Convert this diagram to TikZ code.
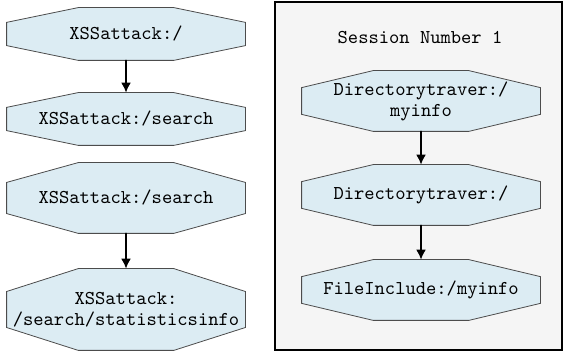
\documentclass[tikz,border=0pt]{standalone}
\usetikzlibrary{calc,backgrounds,arrows.meta}
\definecolor{StepBlue}{HTML}{DCECF3}
\definecolor{PanelGray}{HTML}{F5F5F5}
\begin{document}
\begin{tikzpicture}[x=1pt,y=1pt,line cap=round,font=\ttfamily\fontsize{9.8}{10.5}\selectfont,
  octa/.style={align=center,inner sep=0pt,minimum width=119pt,minimum height=#1},octa/.default=26pt,
  flow/.style={-{Latex[length=5pt,width=5pt]},line width=0.8pt}]
  \useasboundingbox (0,0) rectangle (282.5,178);
  \node[octa] (xss) at (63,161) {XSSattack:/}; \node[octa] (xssSearch) at (63,118.5) {XSSattack:/search};
  \node[octa=35pt] (xssSearchB) at (63,79) {XSSattack:/search};
  \node[octa=40.5pt] (xssStats) at (63,23.25) {XSSattack:\\/search/statisticsinfo};
  \node (title) at (210,159) {Session Number 1};
  \node[octa=30pt] (dirInfo) at (210.5,127.5) {Directorytraver:/\\myinfo};
  \node[octa=30pt] (dirRoot) at (210.5,80.5) {Directorytraver:/};
  \node[octa=30pt] (fileInc) at (210.5,33) {FileInclude:/myinfo};
  \draw[flow] (xss) -- (xssSearch); \draw[flow] (xssSearchB) -- (xssStats);
  \draw[flow] (dirInfo) -- (dirRoot); \draw[flow] (dirRoot) -- (fileInc);
  \begin{scope}[on background layer]
    \draw[fill=PanelGray,line width=0.9pt] (137.5,3) rectangle (281,177);
    \foreach \n in {xss,xssSearch,xssSearchB,xssStats,dirInfo,dirRoot,fileInc}
      \draw[fill=StepBlue,draw=black!70,line width=0.4pt] ($(\n.north west)!.3!(\n.north east)$) -- ($(\n.north west)!.7!(\n.north east)$)
        -- ($(\n.north east)!.28!(\n.south east)$) -- ($(\n.north east)!.72!(\n.south east)$) -- ($(\n.south west)!.7!(\n.south east)$)
        -- ($(\n.south west)!.3!(\n.south east)$) -- ($(\n.north west)!.72!(\n.south west)$) -- ($(\n.north west)!.28!(\n.south west)$) -- cycle;
  \end{scope}
\end{tikzpicture}
\end{document}
